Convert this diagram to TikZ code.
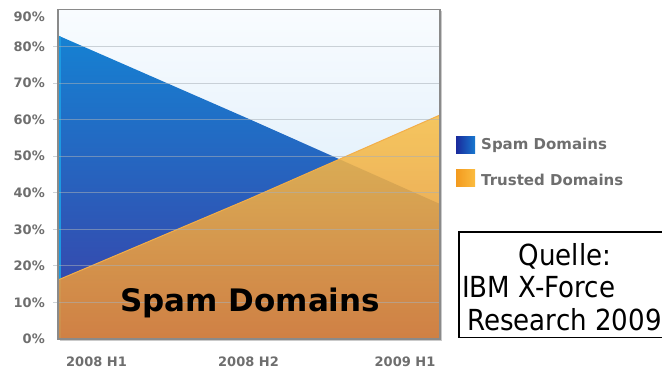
\documentclass[tikz,border=0pt]{standalone}
\usepackage{fontspec}
\setmainfont{DejaVu Sans}
\newfontfamily\notefont{DejaVu Sans}[FakeStretch=0.9]
\definecolor{bgtop}{HTML}{F9FCFF}
\definecolor{bgbot}{HTML}{CFE6F7}
\definecolor{gridc}{HTML}{A8B0B8}
\definecolor{frame}{HTML}{8A8A8A}
\definecolor{frameshadow}{HTML}{CACACA}
\definecolor{bluetop}{HTML}{1287D6}
\definecolor{bluemid}{HTML}{2462BB}
\definecolor{bluebot}{HTML}{3C3EA6}
\definecolor{blueedge}{HTML}{1C9AE2}
\definecolor{orangetop}{HTML}{F7C04A}
\definecolor{orangebot}{HTML}{E48A38}
\definecolor{orangeedge}{HTML}{F3AE48}
\definecolor{labelgrey}{HTML}{6E6E6E}
\definecolor{keyblueL}{HTML}{1A2A9C}
\definecolor{keyblueR}{HTML}{1878CF}
\definecolor{keyorangeL}{HTML}{F39A1E}
\definecolor{keyorangeR}{HTML}{FBBC40}
\begin{document}
\begin{tikzpicture}[x=1pt,y=-1pt,
  axislbl/.style={font=\bfseries\fontsize{13}{15}\selectfont, text=labelgrey, inner sep=0pt},
  legendlbl/.style={font=\bfseries\fontsize{15}{18}\selectfont, text=labelgrey, anchor=base west, inner sep=0pt},
  biglbl/.style={font=\bfseries\fontsize{31}{36}\selectfont, text=black, anchor=base west, inner sep=0pt},
  notelbl/.style={font=\notefont\fontsize{29}{32}\selectfont, inner sep=0pt},
  keybox/.style={minimum width=19pt, minimum height=17pt, inner sep=0pt, draw=none},
  gridline/.style={draw=gridc, line width=0.8pt, opacity=0.55}]

\path[use as bounding box] (0,0) rectangle (662,369);

% plot area corners and data points
\coordinate (tl) at (58,9.5);
\coordinate (br) at (440,339);
\coordinate (s1) at (58,35.5);
\coordinate (s2) at (249,119);
\coordinate (s3) at (440,204);
\coordinate (t1) at (58,280);
\coordinate (t2) at (249,199);
\coordinate (t3) at (440,115);

% background of the plot area
\shade[top color=bgtop, bottom color=bgbot] (tl) rectangle (br);

% spam domains area
\begin{scope}
  \clip (s1) -- (s2) -- (s3) -- (440,339) -- (58,339) -- cycle;
  \shade[top color=bluetop, middle color=bluemid, bottom color=bluebot] (tl) rectangle (br);
  \draw[blueedge, line width=3pt] (59.5,30) -- (59.5,339);
\end{scope}

% trusted domains area, partly see-through
\begin{scope}
  \clip (t1) -- (t2) -- (t3) -- (440,339) -- (58,339) -- cycle;
  \shade[top color=orangetop, bottom color=orangebot, fill opacity=0.88] (58,115) rectangle (br);
\end{scope}
\draw[orangeedge, line width=1pt] (t1) -- (t2) -- (t3);

% horizontal grid lines and y-axis labels
\foreach \k in {10,20,...,80} {
  \draw[gridline] (53,{339-3.656*\k}) -- (440,{339-3.656*\k});
}
\foreach \k in {0,10,...,80} {
  \node[axislbl, anchor=east] (ylbl\k) at (45,{339-3.656*\k}) {\k\%};
}
\node[axislbl, anchor=east] (ylbl90) at (45,17) {90\%};

% frame of the plot
\draw[frameshadow, line width=1pt] (441.8,11) -- (441.8,340.8) -- (60,340.8);
\draw[frame, line width=1.5pt] (tl) rectangle (br);

% x-axis labels
\node[axislbl, anchor=base] (x1) at (96.5,366.5) {2008 H1};
\node[axislbl, anchor=base] (x2) at (248.5,366.5) {2008 H2};
\node[axislbl, anchor=base] (x3) at (405,366.5) {2009 H1};

% label inside the chart
\node[biglbl] (spamlbl) at (120,311) {Spam Domains};

% legend
\node[keybox, left color=keyblueL, right color=keyblueR] (keyspam) at (465.5,144.5) {};
\node[keybox, left color=keyorangeL, right color=keyorangeR] (keytrust) at (465.5,178) {};
\node[legendlbl] (legspam) at (481,149.5) {Spam Domains};
\node[legendlbl] (legtrust) at (481,185.5) {Trusted Domains};

% source box, open towards the right edge
\coordinate (boxtr) at (662,232);
\coordinate (boxbr) at (662,337.5);
\draw[black, line width=1.5pt] (boxtr) -- (459,232) -- (459,337.5) -- (boxbr);
\begin{scope}
  \clip (0,0) rectangle (662,369);
  \node[notelbl, anchor=base] (src1) at (565,265) {Quelle:};
  \node[notelbl, anchor=base west] (src2) at (462,297) {IBM X-Force};
  \node[notelbl, anchor=base west] (src3) at (467,330) {Research 2009};
\end{scope}
\end{tikzpicture}
\end{document}
